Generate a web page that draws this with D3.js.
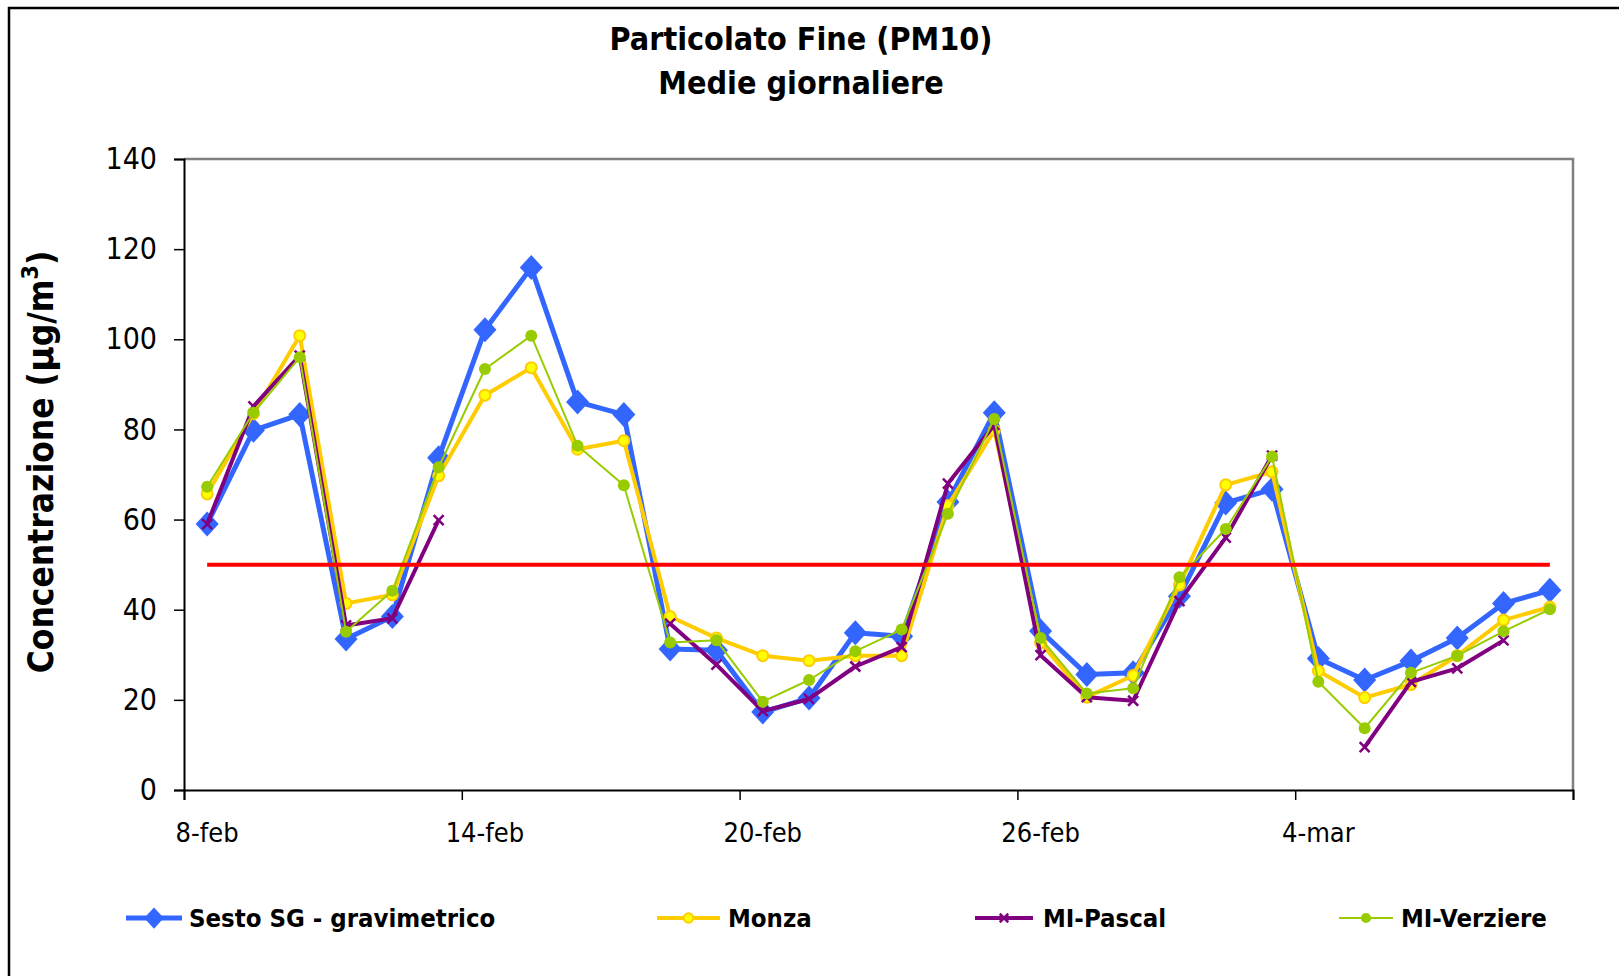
<!doctype html>
<html>
<head>
<meta charset="utf-8">
<script src="https://d3js.org/d3.v7.min.js"></script>
<style>
  body { margin: 0; background: #fff; }
  text { font-family: "DejaVu Sans Condensed", "DejaVu Sans", sans-serif; }
</style>
</head>
<body>
<svg width="1619" height="976"></svg>
<script>
// categories (days)
var days = ["8-feb","9-feb","10-feb","11-feb","12-feb","13-feb","14-feb","15-feb","16-feb","17-feb",
            "18-feb","19-feb","20-feb","21-feb","22-feb","23-feb","24-feb","25-feb","26-feb","27-feb",
            "28-feb","1-mar","2-mar","3-mar","4-mar","5-mar","6-mar","7-mar","8-mar","9-mar"];
var labelDays = ["8-feb","14-feb","20-feb","26-feb","4-mar"];
var yTicks = [0, 20, 40, 60, 80, 100, 120, 140];

// series values (µg/m3)
var sesto    = [59.0, 79.8, 83.3, 33.5, 38.5, 73.7, 102.1, 115.9, 86.1, 83.3, 31.3, 31.0, 17.3, 20.4, 34.9,
                34.1, 63.9, 83.7, 35.3, 25.6, 26.0, 43.0, 63.7, 66.7, 29.2, 24.4, 28.6, 33.7, 41.4, 44.3];
var monza    = [65.7, 83.5, 100.8, 41.4, 43.3, 69.7, 87.6, 93.7, 75.6, 77.5, 38.5, 33.7, 29.8, 28.7, 29.8,
                29.8, 63.1, 79.8, 32.7, 20.6, 25.4, 45.5, 67.7, 70.6, 26.4, 20.5, 23.4, 29.8, 37.7, 40.6];
var pascal   = [59.0, 85.1, 96.4, 36.5, 38.1, 59.9, null, null, null, null, 36.9, 27.8, 17.5, 20.2, 27.4,
                31.7, 68.0, 81.0, 29.9, 20.6, 19.8, 41.9, 56.0, 74.2, null, 9.5, 24.0, 27.0, 33.2, null];
var verziere = [67.3, 83.7, 96.0, 35.1, 44.2, 71.6, 93.4, 100.8, 76.4, 67.6, 32.7, 33.2, 19.6, 24.4, 30.8,
                35.6, 61.3, 82.3, 33.7, 21.4, 22.6, 47.2, 57.9, 74.0, 24.0, 13.7, 26.0, 29.8, 35.2, 40.1];
var limit = 50;

var series = [
  {name: "Sesto SG - gravimetrico", values: sesto,    color: "#3366FF", width: 5,   marker: "diamond"},
  {name: "Monza",                   values: monza,    color: "#FFCC00", width: 4,   marker: "circleY"},
  {name: "MI-Pascal",               values: pascal,   color: "#800080", width: 4,   marker: "cross"},
  {name: "MI-Verziere",             values: verziere, color: "#99CC00", width: 2,   marker: "circleG"}
];

var svg = d3.select("svg");
var plotLeft = 184, plotRight = 1573, plotTop = 159, plotBottom = 790;

// outer chart frame
svg.append("rect")
   .attr("x", 9).attr("y", 8)
   .attr("width", 1700).attr("height", 1100)
   .attr("fill", "none").attr("stroke", "#000").attr("stroke-width", 2.5);

var x = d3.scaleBand().domain(days).range([plotLeft, plotRight]).padding(0);
var xIdx = d3.scaleLinear().domain([0, days.length]).range([plotLeft, plotRight]);
var y = d3.scaleLinear().domain([0, 140]).range([plotBottom, plotTop]);
var cx = function(d) { return x(d) + x.bandwidth() / 2; };

// plot area border (top/right in grey)
svg.append("path")
   .attr("d", "M" + plotLeft + "," + plotTop + "H" + plotRight + "V" + plotBottom)
   .attr("fill", "none").attr("stroke", "#808080").attr("stroke-width", 2.5);

// y axis
var gy = svg.append("g")
   .attr("transform", "translate(" + plotLeft + ",0)")
   .call(d3.axisLeft(y).tickValues(yTicks).tickSize(10).tickPadding(17));
gy.select(".domain").attr("stroke-width", 2);
gy.selectAll(".tick line").attr("stroke-width", 1.5);
gy.selectAll("text").attr("font-size", 30).attr("fill", "#000")
   .style("font-family", "\"DejaVu Sans Condensed\", \"DejaVu Sans\", sans-serif");

// x axis: ticks at boundaries every 6 days, labels at day centres
var gx = svg.append("g")
   .attr("transform", "translate(0," + plotBottom + ")")
   .call(d3.axisBottom(xIdx).tickValues([0, 6, 12, 18, 24, 30]).tickSize(10).tickFormat(""));
gx.select(".domain").attr("stroke-width", 2);
gx.selectAll(".tick line").attr("stroke-width", 1.5);

svg.append("g").selectAll("text")
   .data(labelDays)
   .enter().append("text")
   .attr("x", d => cx(d))
   .attr("y", plotBottom + 52)
   .attr("text-anchor", "middle")
   .attr("font-size", 27)
   .text(d => d);

// lines
var line = d3.line()
   .defined(d => d.v != null)
   .x(d => cx(d.day))
   .y(d => y(d.v));

series.forEach(function(s) {
  var pts = days.map(function(d, i) { return {day: d, v: s.values[i]}; });
  svg.append("path")
     .datum(pts)
     .attr("d", line)
     .attr("fill", "none")
     .attr("stroke", s.color)
     .attr("stroke-width", s.width)
     .attr("stroke-linejoin", "round");
  drawMarkers(svg, pts.filter(p => p.v != null).map(p => [cx(p.day), y(p.v)]), s.marker, 1);
});

// limit value line (drawn over the series)
svg.append("line")
   .attr("x1", cx(days[0])).attr("x2", cx(days[days.length - 1]))
   .attr("y1", y(limit)).attr("y2", y(limit))
   .attr("stroke", "#FF0000").attr("stroke-width", 4);

function drawMarkers(g, pts, type, k) {
  var m = g.append("g");
  pts.forEach(function(p) {
    if (type == "diamond") {
      var a = 11.5 * k, b = 12.5 * k;
      m.append("path")
       .attr("d", "M" + p[0] + "," + (p[1] - b) + "L" + (p[0] + a) + "," + p[1] +
                  "L" + p[0] + "," + (p[1] + b) + "L" + (p[0] - a) + "," + p[1] + "Z")
       .attr("fill", "#3366FF");
    } else if (type == "circleY") {
      m.append("circle").attr("cx", p[0]).attr("cy", p[1]).attr("r", 5.5 * k)
       .attr("fill", "#FFFF00").attr("stroke", "#FFCC00").attr("stroke-width", 2);
    } else if (type == "circleG") {
      m.append("circle").attr("cx", p[0]).attr("cy", p[1]).attr("r", 6 * k)
       .attr("fill", "#99CC00");
    } else if (type == "cross") {
      var c = 5 * k;
      m.append("path")
       .attr("d", "M" + (p[0] - c) + "," + (p[1] - c) + "L" + (p[0] + c) + "," + (p[1] + c) +
                  "M" + (p[0] - c) + "," + (p[1] + c) + "L" + (p[0] + c) + "," + (p[1] - c))
       .attr("stroke", "#800080").attr("stroke-width", 2.5);
    }
  });
}

// title
svg.append("text")
   .attr("x", 801).attr("y", 50)
   .attr("text-anchor", "middle")
   .attr("font-size", 32).attr("font-weight", "bold")
   .text("Particolato Fine (PM10)");
svg.append("text")
   .attr("x", 801).attr("y", 94)
   .attr("text-anchor", "middle")
   .attr("font-size", 32).attr("font-weight", "bold")
   .text("Medie giornaliere");

// y axis title
var yt = svg.append("text")
   .attr("transform", "translate(53,462)rotate(-90)")
   .attr("text-anchor", "middle")
   .attr("font-size", 35).attr("font-weight", "bold");
yt.append("tspan").text("Concentrazione (");
yt.append("tspan").attr("font-family", "\"DejaVu Sans\"").text("µ");
yt.append("tspan").text("g/m");
yt.append("tspan").attr("font-size", 23).attr("dy", -15).text("3");
yt.append("tspan").attr("dy", 15).text(")");

// legend
var legendLine = [[126, 182], [657, 720], [975, 1033], [1339, 1393]];
var legendText = [189, 728, 1043, 1401];
var lg = svg.append("g");
series.forEach(function(s, i) {
  var ly = 918;
  lg.append("line")
    .attr("x1", legendLine[i][0]).attr("x2", legendLine[i][1])
    .attr("y1", ly).attr("y2", ly)
    .attr("stroke", s.color).attr("stroke-width", s.width);
  drawMarkers(lg, [[(legendLine[i][0] + legendLine[i][1]) / 2, ly]], s.marker, 0.85);
  lg.append("text")
    .attr("x", legendText[i]).attr("y", ly + 9)
    .attr("font-size", 25.5).attr("font-weight", "bold")
    .text(s.name);
});
</script>
</body>
</html>
